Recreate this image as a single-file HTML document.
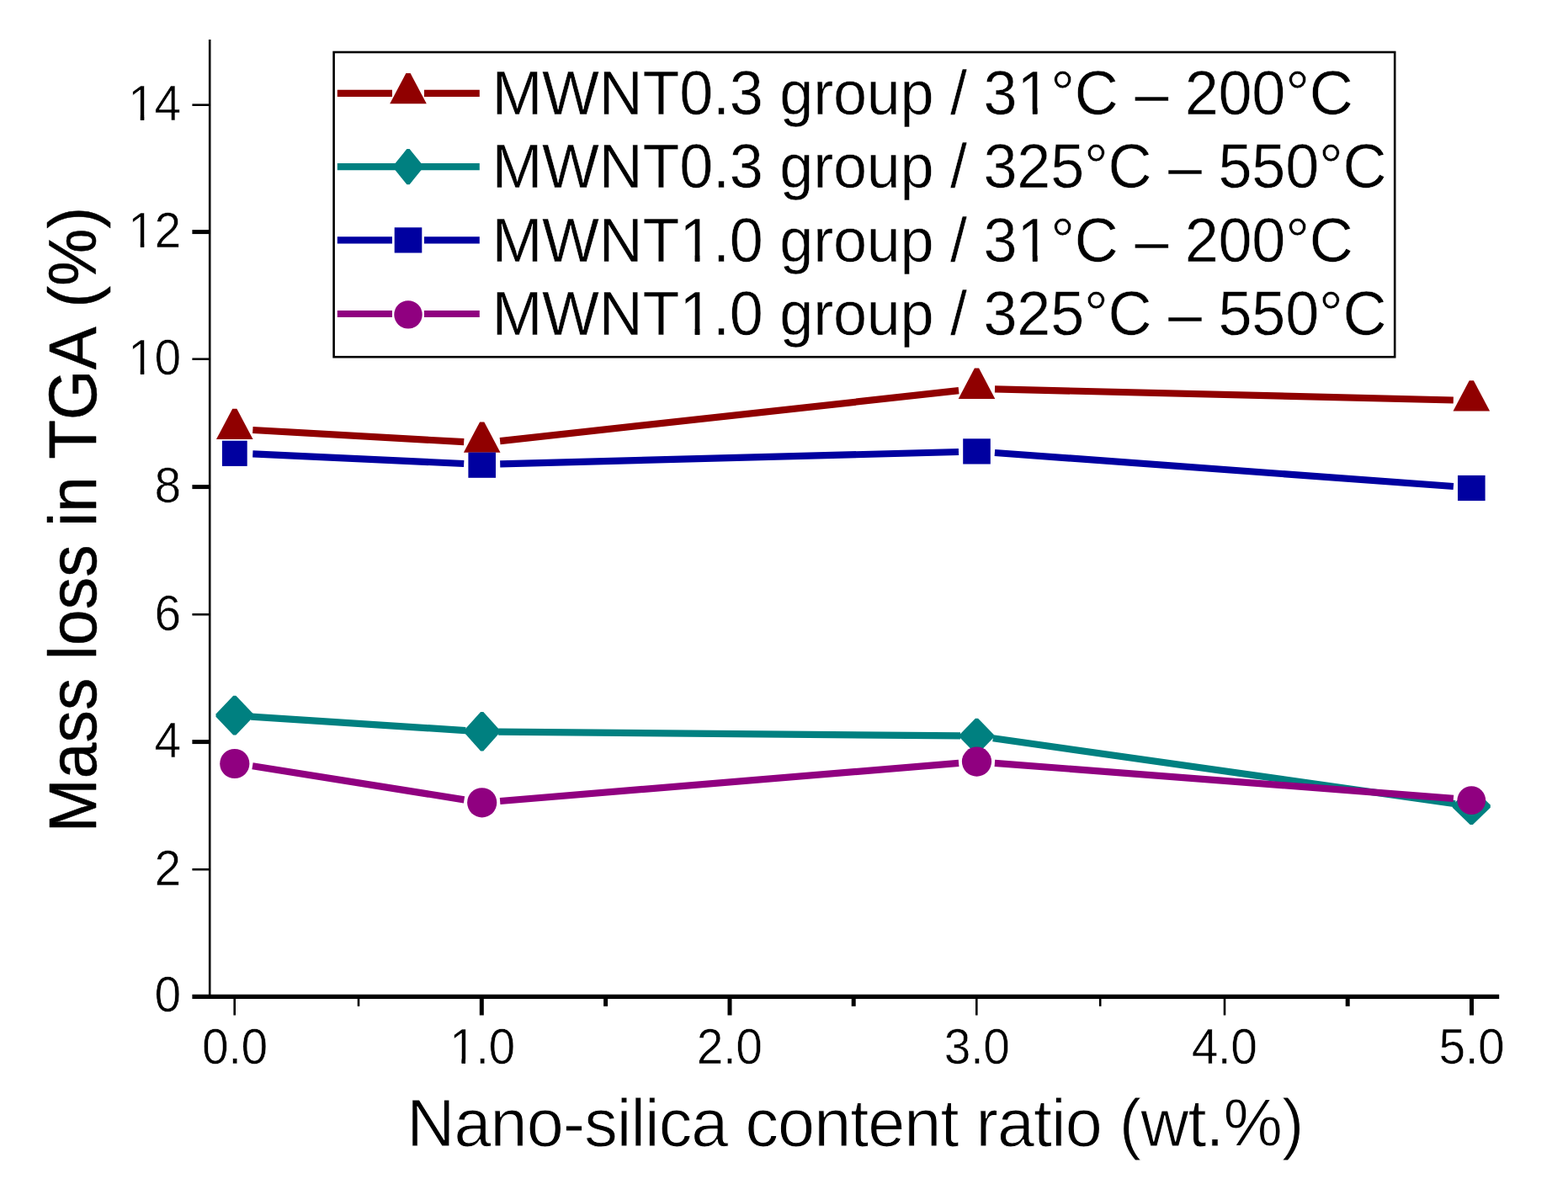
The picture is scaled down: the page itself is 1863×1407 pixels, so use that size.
<!DOCTYPE html>
<html lang="en"><head><meta charset="utf-8"><title>Mass loss in TGA</title>
<style>
html,body{margin:0;padding:0;background:#fff;}
body{width:1863px;height:1407px;overflow:hidden;}
svg{display:block;}
text{font-family:"Liberation Sans",sans-serif;fill:#000;stroke:#fff;stroke-width:1px;stroke-linejoin:round;}
.tick{font-size:57px;letter-spacing:-0.5px;}
.tick text{stroke-width:0.6px;}
.leg{font-size:71.95px;letter-spacing:-0.22px;stroke-width:0.5px;}
.ttl{font-size:78.8px;letter-spacing:-0.95px;}
.ytl{font-size:76.5px;letter-spacing:0.2px;stroke:#000;stroke-width:0.5px;}
</style></head><body>
<svg width="1863" height="1407" viewBox="0 0 1863 1407">
<rect width="1863" height="1407" fill="#fff"/>
<g stroke="#000" fill="none">
<line x1="249.2" y1="47" x2="249.2" y2="1186" stroke-width="2.6"/>
<line x1="228.4" y1="1184.4" x2="1781.2" y2="1184.4" stroke-width="5.4"/>
<line x1="228.4" y1="124.7" x2="249" y2="124.7" stroke-width="2.6"/>
<line x1="228.4" y1="275.6" x2="249" y2="275.6" stroke-width="5"/>
<line x1="228.4" y1="426.7" x2="249" y2="426.7" stroke-width="2.6"/>
<line x1="228.4" y1="578.6" x2="249" y2="578.6" stroke-width="5"/>
<line x1="228.4" y1="730.2" x2="249" y2="730.2" stroke-width="2.6"/>
<line x1="228.4" y1="881.6" x2="249" y2="881.6" stroke-width="5"/>
<line x1="228.4" y1="1033.2" x2="249" y2="1033.2" stroke-width="2.6"/>
<line x1="278.7" y1="1184" x2="278.7" y2="1206.5" stroke-width="2.6"/>
<line x1="572.3" y1="1184" x2="572.3" y2="1206.5" stroke-width="5"/>
<line x1="867.0" y1="1184" x2="867.0" y2="1206.5" stroke-width="5"/>
<line x1="1160.3" y1="1184" x2="1160.3" y2="1206.5" stroke-width="2.6"/>
<line x1="1455.0" y1="1184" x2="1455.0" y2="1206.5" stroke-width="2.6"/>
<line x1="1748.5" y1="1184" x2="1748.5" y2="1206.5" stroke-width="5"/>
<line x1="426.0" y1="1184" x2="426.0" y2="1195.8" stroke-width="2.6"/>
<line x1="719.6" y1="1184" x2="719.6" y2="1195.8" stroke-width="5"/>
<line x1="1014.2" y1="1184" x2="1014.2" y2="1195.8" stroke-width="5"/>
<line x1="1307.2" y1="1184" x2="1307.2" y2="1195.8" stroke-width="2.6"/>
<line x1="1601.2" y1="1184" x2="1601.2" y2="1195.8" stroke-width="5"/>
</g>
<g class="tick" text-anchor="end">
<text transform="translate(214.6,143.1) scale(1,1.025)">14</text>
<text transform="translate(214.6,294.0) scale(1,1.025)">12</text>
<text transform="translate(214.6,445.1) scale(1,1.025)">10</text>
<text transform="translate(214.6,597.0) scale(1,1.025)">8</text>
<text transform="translate(214.6,748.6) scale(1,1.025)">6</text>
<text transform="translate(214.6,900.0) scale(1,1.025)">4</text>
<text transform="translate(214.6,1051.6) scale(1,1.025)">2</text>
<text transform="translate(214.6,1201.6) scale(1,1.025)">0</text>
</g>
<g class="tick" text-anchor="middle">
<text transform="translate(278.9,1263.9) scale(1,1.03)">0.0</text>
<text transform="translate(572.8,1263.9) scale(1,1.03)">1.0</text>
<text transform="translate(866.7,1263.9) scale(1,1.03)">2.0</text>
<text transform="translate(1160.6,1263.9) scale(1,1.03)">3.0</text>
<text transform="translate(1454.5,1263.9) scale(1,1.03)">4.0</text>
<text transform="translate(1748.4,1263.9) scale(1,1.03)">5.0</text>
</g>
<text class="ttl" text-anchor="middle" transform="translate(1015.8,1362.2) scale(1.005,1.02)">Nano-silica content ratio (wt.%)</text>
<text class="ytl" transform="translate(113.9,620.2) rotate(-90) scale(1.0,1.035)" x="-368.97">Mass loss in TGA</text>
<text class="ytl" transform="translate(113.9,614.9) rotate(-90) scale(1.0,1.035)" x="249.4">(%)</text>
<g>
<line x1="300.3" y1="511.0" x2="551.2" y2="525.2" stroke="#900000" stroke-width="8.2"/>
<line x1="594.1" y1="524.1" x2="1139.1" y2="464.2" stroke="#900000" stroke-width="8.2"/>
<line x1="1182.0" y1="462.4" x2="1726.8" y2="475.5" stroke="#900000" stroke-width="8.2"/>
<polygon points="276.2,485.8 281.4,485.8 300.6,522.1 257.0,522.1" fill="#900000"/>
<polygon points="570.1,501.4 575.3,501.4 594.5,537.7 550.9,537.7" fill="#900000"/>
<polygon points="1157.9,437.6 1163.1,437.6 1182.3,473.9 1138.7,473.9" fill="#900000"/>
<polygon points="1745.7,452.2 1750.9,452.2 1770.1,488.5 1726.5,488.5" fill="#900000"/>
</g>
<g>
<line x1="298.3" y1="851.7" x2="553.2" y2="868.1" stroke="#008080" stroke-width="8.2"/>
<line x1="592.2" y1="869.6" x2="1141.0" y2="874.4" stroke="#008080" stroke-width="8.2"/>
<line x1="1179.8" y1="877.3" x2="1729.0" y2="955.3" stroke="#008080" stroke-width="8.2"/>
<polygon points="277.2,826.8 280.4,826.8 301.1,848.6 301.1,851.8 280.4,873.6 277.2,873.6 256.5,851.8 256.5,848.6" fill="#008080"/>
<polygon points="571.1,846.0 574.3,846.0 593.7,867.6 593.7,870.8 574.3,892.4 571.1,892.4 551.7,870.8 551.7,867.6" fill="#008080"/>
<polygon points="1158.9,853.7 1162.1,853.7 1180.8,873.0 1180.8,876.2 1162.1,895.5 1158.9,895.5 1140.2,876.2 1140.2,873.0" fill="#008080"/>
<polygon points="1746.7,936.3 1749.9,936.3 1770.8,956.6 1770.8,959.8 1749.9,980.1 1746.7,980.1 1725.8,959.8 1725.8,956.6" fill="#008080"/>
</g>
<g>
<line x1="300.3" y1="539.4" x2="551.2" y2="551.0" stroke="#0000A0" stroke-width="8.2"/>
<line x1="594.2" y1="551.4" x2="1139.0" y2="537.0" stroke="#0000A0" stroke-width="8.2"/>
<line x1="1181.9" y1="538.0" x2="1726.9" y2="578.0" stroke="#0000A0" stroke-width="8.2"/>
<rect x="263.9" y="523.7" width="29.8" height="30.2" fill="#0000A0"/>
<rect x="556.4" y="537.6" width="32.6" height="30.2" fill="#0000A0"/>
<rect x="1144.2" y="521.3" width="32.6" height="30.2" fill="#0000A0"/>
<rect x="1732.0" y="564.9" width="32.6" height="30.2" fill="#0000A0"/>
</g>
<g>
<line x1="300.0" y1="910.2" x2="551.5" y2="950.4" stroke="#900080" stroke-width="8.2"/>
<line x1="594.1" y1="952.0" x2="1139.1" y2="906.9" stroke="#900080" stroke-width="8.2"/>
<line x1="1181.9" y1="906.8" x2="1726.9" y2="948.9" stroke="#900080" stroke-width="8.2"/>
<circle cx="278.8" cy="907.5" r="17.6" fill="#900080"/>
<circle cx="572.7" cy="953.8" r="17.6" fill="#900080"/>
<circle cx="1160.5" cy="905.1" r="17.6" fill="#900080"/>
<circle cx="1748.3" cy="951.1" r="16.9" fill="#900080"/>
</g>
<rect x="396.6" y="62" width="1260.6" height="362.2" fill="#fff" stroke="#000" stroke-width="2.6"/>
<line x1="400.8" y1="110.9" x2="466.0" y2="110.9" stroke="#900000" stroke-width="8.2"/>
<line x1="504.0" y1="110.9" x2="569.8" y2="110.9" stroke="#900000" stroke-width="8.2"/>
<polygon points="482.4,86.9 487.6,86.9 506.8,123.2 463.2,123.2" fill="#900000"/>
<text class="leg" transform="translate(584.4,135.7) scale(1.0,1.018)">MWNT0.3 group / 31°C – 200°C</text>
<line x1="400.8" y1="198.2" x2="470" y2="198.2" stroke="#008080" stroke-width="8.2"/>
<line x1="500" y1="198.2" x2="569.8" y2="198.2" stroke="#008080" stroke-width="8.2"/>
<polygon points="483.4,177.1 486.6,177.1 502.4,196.6 502.4,199.8 486.6,219.3 483.4,219.3 467.6,199.8 467.6,196.6" fill="#008080"/>
<text class="leg" transform="translate(584.4,223.1) scale(1.0,1.018)">MWNT0.3 group / 325°C – 550°C</text>
<line x1="400.8" y1="285.4" x2="466.0" y2="285.4" stroke="#0000A0" stroke-width="8.2"/>
<line x1="504.0" y1="285.4" x2="569.8" y2="285.4" stroke="#0000A0" stroke-width="8.2"/>
<rect x="468.7" y="270.3" width="32.6" height="30.2" fill="#0000A0"/>
<text class="leg" transform="translate(584.4,310.9) scale(1.0,1.018)">MWNT1.0 group / 31°C – 200°C</text>
<line x1="400.8" y1="373.0" x2="466.0" y2="373.0" stroke="#900080" stroke-width="8.2"/>
<line x1="504.0" y1="373.0" x2="569.8" y2="373.0" stroke="#900080" stroke-width="8.2"/>
<circle cx="485.0" cy="373.9" r="16.7" fill="#900080"/>
<text class="leg" transform="translate(584.4,398.1) scale(1.0,1.018)">MWNT1.0 group / 325°C – 550°C</text>
<g fill="#fff"><rect x="155.0" y="137.9" width="11.9" height="7.8"/><rect x="171.2" y="137.9" width="11.5" height="7.8"/><rect x="155.0" y="288.8" width="11.9" height="7.8"/><rect x="171.2" y="288.8" width="11.5" height="7.8"/><rect x="155.0" y="439.9" width="11.9" height="7.8"/><rect x="171.2" y="439.9" width="11.5" height="7.8"/><rect x="536.7" y="1258.7" width="11.9" height="7.8"/><rect x="552.9" y="1258.7" width="11.5" height="7.8"/><rect x="1211.9" y="129.2" width="15.1" height="9.8"/><rect x="1232.3" y="129.2" width="14.5" height="9.8"/><rect x="810.8" y="304.4" width="15.1" height="9.8"/><rect x="831.2" y="304.4" width="14.5" height="9.8"/><rect x="1211.9" y="304.4" width="15.1" height="9.8"/><rect x="1232.3" y="304.4" width="14.5" height="9.8"/><rect x="810.8" y="391.6" width="15.1" height="9.8"/><rect x="831.2" y="391.6" width="14.5" height="9.8"/></g><g fill="#000"><rect x="166.8" y="137.5" width="4.4" height="5.3"/><rect x="166.8" y="288.4" width="4.4" height="5.3"/><rect x="166.8" y="439.5" width="4.4" height="5.3"/><rect x="548.6" y="1258.2" width="4.4" height="5.4"/><rect x="1226.8" y="128.6" width="5.8" height="6.8"/><rect x="825.6" y="303.8" width="5.8" height="6.8"/><rect x="1226.8" y="303.8" width="5.8" height="6.8"/><rect x="825.6" y="391.0" width="5.8" height="6.8"/></g>
</svg></body></html>
